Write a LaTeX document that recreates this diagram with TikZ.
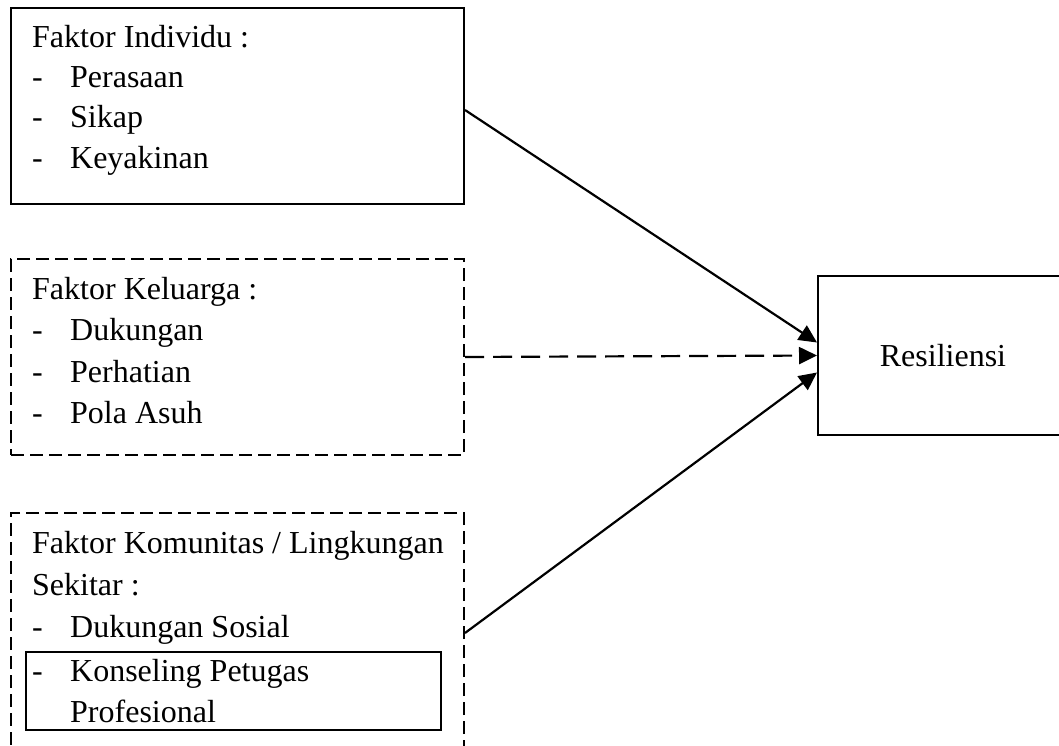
\documentclass[tikz,border=0pt]{standalone}
\usepackage{fontspec}
\setmainfont{Liberation Serif}
\usetikzlibrary{arrows.meta}
\begin{document}
\begin{tikzpicture}[x=1pt,y=-1pt,
  box/.style={draw, line width=2pt, rectangle, inner sep=0pt},
  dbox/.style={box, dash pattern=on 13pt off 6pt},
  ibox/.style={draw, line width=1.8pt, rectangle, inner sep=0pt},
  txt/.style={anchor=base west, inner sep=0pt, font=\fontsize{32pt}{38pt}\selectfont},
  conn/.style={line width=2.2pt, -{Triangle[length=18pt,width=17pt]}},
  dconn/.style={conn, dash pattern=on 19pt off 9pt}]
\useasboundingbox (0,0) rectangle (1059,746);
\clip (0,0) rectangle (1059,746);
\fill[white] (0,0) rectangle (1059,746);
\newcommand{\itm}[1]{\makebox[38pt][l]{-}#1}
% boxes
\node[box, minimum width=453pt, minimum height=196pt] (b1) at (237.5,106) {};
\node[dbox, minimum width=453pt, minimum height=196pt] (b2) at (237.5,357) {};
\node[dbox, minimum width=453pt, minimum height=300pt] (b3) at (237.5,663) {};
\node[ibox, minimum width=415pt, minimum height=78pt] (b3i) at (233.5,691) {};
\node[box, minimum width=250pt, minimum height=159pt] (res) at (943,355.5) {};
% texts box 1
\node[txt] (t11) at (32,48) {Faktor Individu :};
\node[txt] (t12) at (32,88) {\itm{Perasaan}};
\node[txt] (t13) at (32,128) {\itm{Sikap}};
\node[txt] (t14) at (32,168) {\itm{Keyakinan}};
% texts box 2
\node[txt] (t21) at (32,299) {Faktor Keluarga :};
\node[txt] (t22) at (32,340) {\itm{Dukungan}};
\node[txt] (t23) at (32,382) {\itm{Perhatian}};
\node[txt] (t24) at (32,423) {\itm{Pola Asuh}};
% texts box 3
\node[txt] (t31) at (32,553) {Faktor Komunitas / Lingkungan};
\node[txt] (t32) at (32,595) {Sekitar :};
\node[txt] (t33) at (32,637) {\itm{Dukungan Sosial}};
\node[txt] (t34) at (32,681) {\itm{Konseling Petugas}};
\node[txt] (t35) at (70,722) {Profesional};
% result text
\node[anchor=center, inner sep=0pt, font=\fontsize{32pt}{38pt}\selectfont] (rt) at (res.center) {Resiliensi};
% connectors
\draw[conn] ([yshift=-4pt]b1.east) -- ([yshift=13pt]res.west);
\draw[dconn] (b2.east) -- (res.west);
\draw[conn] ([yshift=30pt]b3.east) -- ([yshift=-17pt]res.west);
\end{tikzpicture}
\end{document}
